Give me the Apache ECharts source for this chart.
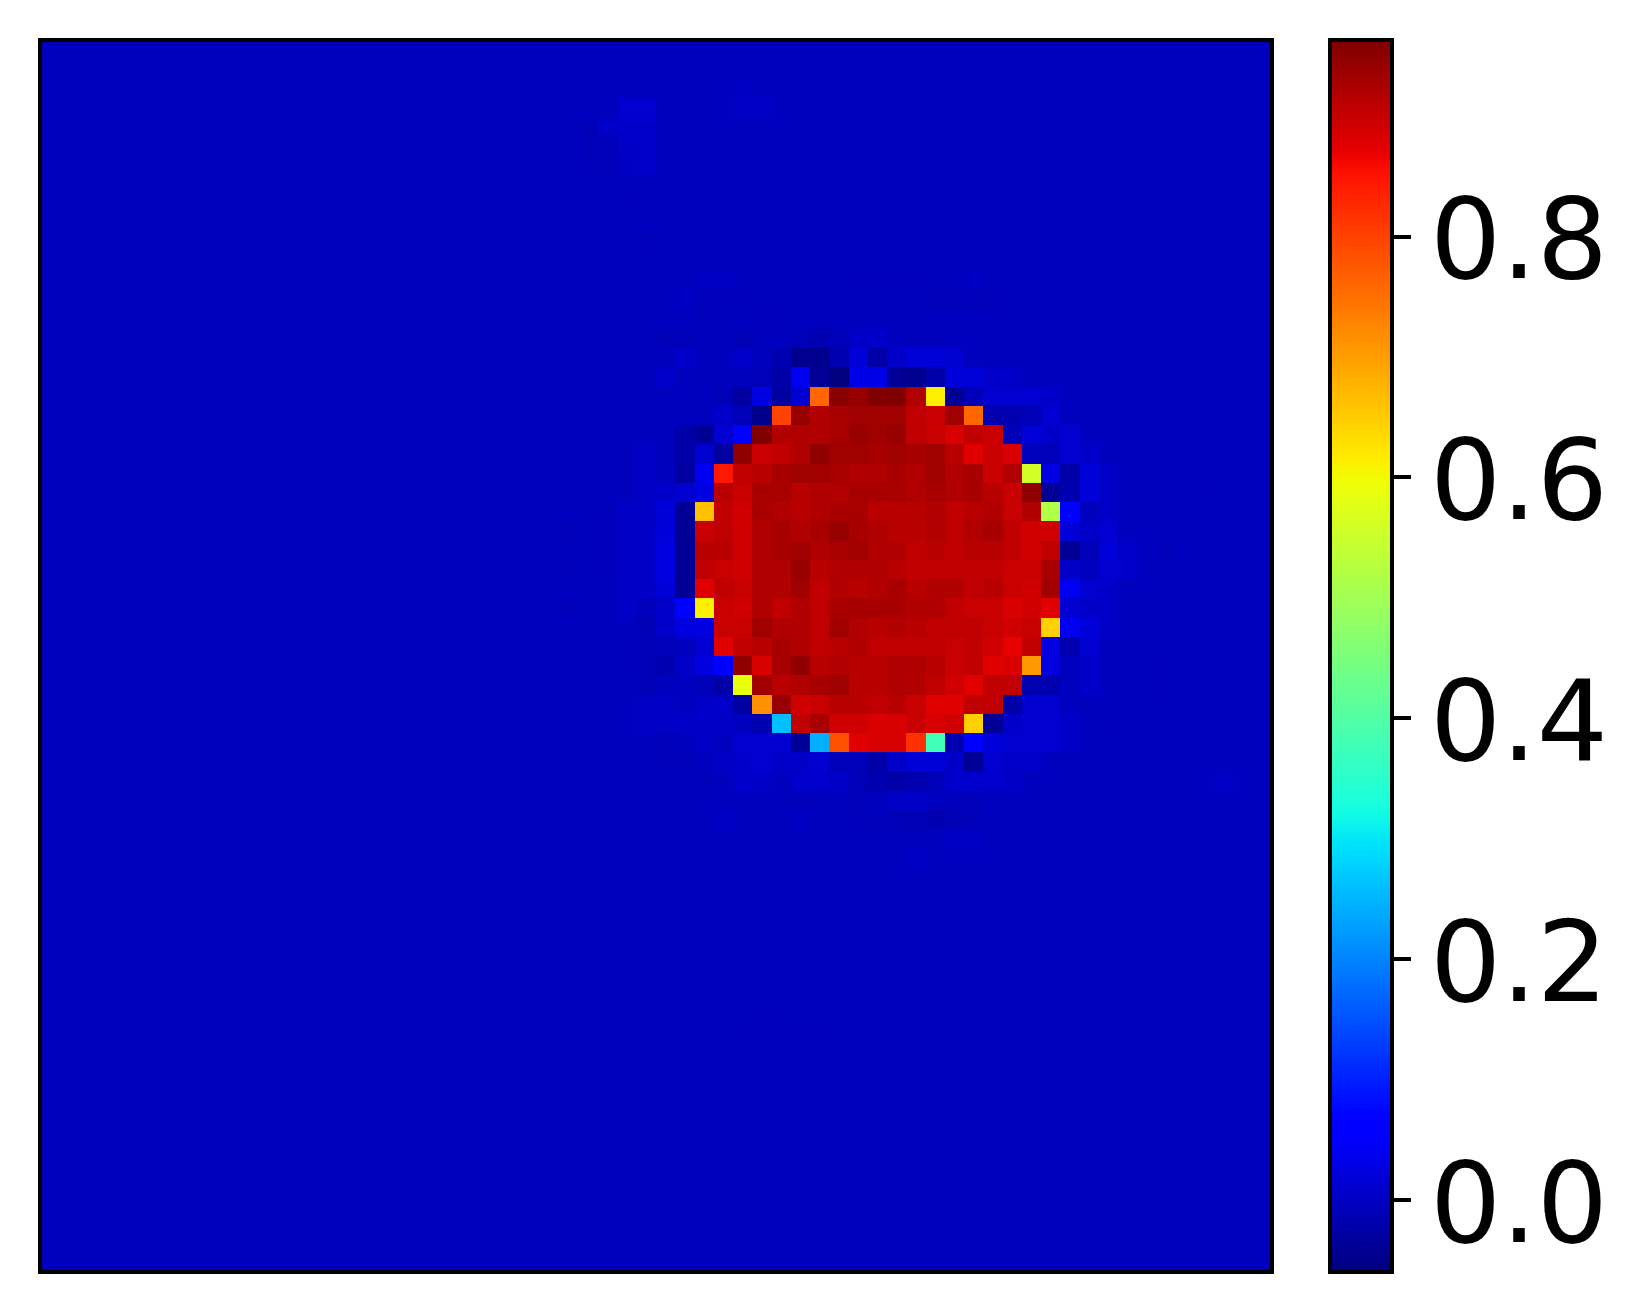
<!DOCTYPE html>
<html>
<head>
<meta charset="utf-8">
<title>heatmap</title>
<script src="https://cdn.jsdelivr.net/npm/echarts@6/dist/echarts.min.js"></script>
<style>
html, body { margin: 0; padding: 0; background: #fff; }
#chart { width: 1647px; height: 1312px; }
</style>
</head>
<body>
<div id="chart"></div>
<script>
const gridSize = 64;
const backgroundValue = -0.004;
const valueMin = -0.06;
const valueMax = 0.963;
const colorbarTicks = [0, 0.2, 0.4, 0.6, 0.8];

// cells around the disc: rows 15..38, columns 31..56
const coreFirstRow = 15;
const coreFirstCol = 31;
const coreRows = [
  [-.004,-.010,-.010,-.004,-.004,-.012,-.004,-.004,-.010,-.016,-.008,.002,.006,-.004,-.006,-.006,-.004,-.004,-.004,-.004,-.004,-.004,-.004,-.004,-.004,-.004],
  [-.004,-.004,.004,-.004,-.004,.004,-.004,-.017,-.046,-.046,-.017,.018,-.024,.004,.018,.018,.011,-.004,-.004,-.004,-.004,-.004,-.004,-.004,-.004,-.004],
  [-.004,.004,-.004,-.004,-.004,-.004,-.010,-.024,.039,-.039,-.060,.032,.032,-.039,-.046,-.024,.018,.018,.004,.004,-.004,-.004,-.004,-.004,-.004,-.004],
  [-.004,-.004,-.004,-.004,-.010,-.031,.025,-.031,.011,.760,.955,.941,.963,.963,.920,.611,-.039,-.010,.011,.011,.011,.004,-.004,-.004,-.004,-.004],
  [-.004,-.004,-.004,-.004,.004,-.010,-.046,.800,.941,.920,.927,.934,.934,.934,.906,.899,.934,.760,-.017,-.017,-.010,.011,-.004,-.004,-.004,-.004],
  [-.004,-.004,-.024,-.039,.011,.065,.963,.920,.920,.920,.927,.941,.934,.941,.906,.899,.885,.906,.899,-.010,.018,.004,.011,-.004,-.004,-.004],
  [.002,-.004,-.024,.011,-.031,.948,.899,.906,.920,.948,.934,.934,.927,.934,.927,.934,.913,.878,.899,.885,-.004,-.010,.011,.004,-.004,-.004],
  [.002,-.004,-.031,.039,.845,.906,.913,.927,.934,.934,.927,.920,.920,.927,.920,.934,.920,.927,.899,.920,.557,.025,-.024,.018,.004,-.004],
  [.002,.004,.011,.025,.913,.899,.927,.927,.913,.920,.920,.927,.927,.927,.920,.927,.920,.927,.913,.899,.948,-.039,-.017,.018,.004,-.004],
  [.002,.018,-.039,.663,.906,.892,.927,.920,.913,.920,.927,.927,.913,.913,.913,.920,.906,.913,.920,.899,.920,.517,.065,-.004,.004,-.004],
  [.002,.018,-.039,.899,.906,.892,.920,.927,.920,.927,.941,.927,.920,.913,.913,.920,.906,.920,.927,.906,.892,.892,.018,.004,.011,-.004],
  [.002,.025,-.039,.913,.913,.892,.920,.927,.934,.920,.927,.934,.920,.920,.906,.913,.906,.913,.913,.906,.892,.906,-.039,-.010,.018,.004],
  [.002,.025,-.039,.906,.899,.892,.920,.920,.941,.913,.920,.920,.920,.913,.906,.906,.906,.906,.906,.899,.899,.927,.004,-.004,.011,.004],
  [.002,.018,-.039,.878,.906,.899,.920,.920,.934,.906,.920,.913,.920,.927,.913,.920,.920,.906,.913,.899,.892,.934,.039,.011,.004,-.004],
  [-.008,.004,.065,.611,.899,.892,.920,.906,.920,.906,.927,.927,.927,.927,.920,.920,.906,.899,.899,.885,.892,.878,.011,.004,.004,-.004],
  [-.012,.004,.025,.025,.899,.899,.934,.920,.920,.906,.934,.920,.913,.920,.913,.906,.906,.906,.899,.892,.899,.646,.039,.018,.004,-.004],
  [-.012,-.010,-.004,.011,.878,.906,.913,.927,.920,.906,.913,.920,.906,.906,.906,.906,.899,.906,.892,.871,.906,.025,-.017,.011,-.004,-.004],
  [-.012,-.017,.004,.025,.065,.948,.885,.927,.948,.913,.920,.913,.913,.920,.920,.913,.899,.906,.878,.885,.706,.025,-.004,.004,-.004,-.004],
  [-.012,-.004,-.004,-.010,-.024,.587,.934,.913,.920,.927,.934,.913,.913,.920,.920,.906,.892,.878,.906,.906,-.017,-.017,-.004,.004,-.004,-.004],
  [.002,.002,-.004,.004,.004,-.031,.714,.941,.892,.899,.913,.913,.906,.913,.899,.878,.878,.906,.906,-.024,.011,.011,-.004,-.004,-.004,-.004],
  [.002,.002,.004,.004,.004,-.004,-.017,.260,.906,.927,.892,.892,.885,.885,.899,.885,.892,.646,-.039,.004,.011,.011,.004,-.004,-.008,-.004],
  [-.004,-.008,-.004,.004,-.004,.011,.011,.011,-.039,.244,.784,.878,.885,.885,.819,.377,-.017,.065,.018,.011,.011,.011,.004,-.004,-.004,-.004],
  [-.004,-.008,-.008,-.004,.002,.004,.011,.004,.004,.011,-.010,-.010,-.024,.004,.018,.018,.004,-.039,.011,.004,.004,-.004,-.004,-.004,-.004,-.004],
  [-.004,-.004,-.004,-.008,-.004,.008,.004,-.004,.008,.008,.002,-.010,-.017,-.024,-.017,-.010,.008,.008,.008,.002,-.004,-.004,-.004,-.004,-.004,-.004]
];

// faint patches elsewhere on the background: [col, row, value]
const backgroundPatches = [
  [36, 2, -.001],
  [30, 3, .011], [31, 3, .011], [36, 3, .002], [37, 3, .002],
  [28, 4, -.010], [29, 4, .004], [30, 4, .006], [31, 4, .006],
  [28, 5, -.010], [29, 5, -.008], [30, 5, .002], [31, 5, .006],
  [28, 6, -.008], [29, 6, -.008], [30, 6, -.001], [31, 6, .004],
  [30, 8, -.008], [31, 10, -.008],
  [34, 12, .001], [35, 12, .001], [42, 12, -.007], [43, 12, -.007], [44, 12, -.007], [45, 12, -.007], [48, 12, .001],
  [33, 13, .001], [34, 13, -.007], [35, 13, -.007], [36, 13, -.007], [46, 13, -.009], [47, 13, -.009], [48, 13, -.009], [49, 13, -.009],
  [34, 14, -.006], [37, 14, -.005], [38, 14, -.005], [49, 14, -.005],
  [30, 21, -.006], [30, 22, -.006], [30, 23, -.006],
  [30, 24, .002], [30, 25, .002], [30, 26, .002], [30, 27, .002], [30, 28, .002], [30, 29, .002],
  [29, 24, -.006], [29, 25, -.006], [29, 26, -.006], [29, 27, -.006],
  [27, 25, -.008], [27, 27, -.008], [27, 29, -.008], [30, 31, -.006], [30, 32, -.006],
  [58, 24, -.008], [58, 26, -.008], [58, 28, -.009], [60, 23, -.008],
  [56, 26, -.006], [56, 27, -.006], [58, 32, -.006], [58, 33, -.006], [58, 34, -.006], [61, 38, .002],
  [39, 39, -.008], [40, 39, -.007], [42, 39, -.008], [44, 39, .002], [45, 39, .002], [47, 39, -.008], [48, 39, -.008],
  [35, 40, .001], [39, 40, .001], [42, 40, -.008], [43, 40, -.008], [44, 40, -.012], [45, 40, -.012], [46, 40, -.016], [47, 40, -.012], [48, 40, -.008],
  [47, 41, .001], [48, 41, .001], [45, 42, .001],
  [37, 50, -.007], [38, 50, -.007], [36, 51, -.007], [37, 51, -.007], [38, 51, -.007], [39, 51, -.007], [40, 51, -.007]
];

// matplotlib jet
function jet(t) {
  const seg = (pts) => {
    for (let i = 1; i < pts.length; i++) {
      if (t <= pts[i][0]) {
        const k = (t - pts[i - 1][0]) / (pts[i][0] - pts[i - 1][0]);
        return pts[i - 1][1] + k * (pts[i][1] - pts[i - 1][1]);
      }
    }
    return pts[pts.length - 1][1];
  };
  const r = seg([[0, 0], [0.35, 0], [0.66, 1], [0.89, 1], [1, 0.5]]);
  const g = seg([[0, 0], [0.125, 0], [0.375, 1], [0.64, 1], [0.91, 0], [1, 0]]);
  const b = seg([[0, 0.5], [0.11, 1], [0.34, 1], [0.65, 0], [1, 0]]);
  return 'rgb(' + Math.round(r * 255) + ',' + Math.round(g * 255) + ',' + Math.round(b * 255) + ')';
}
const jetColors = [];
for (let i = 0; i < 256; i++) jetColors.push(jet(i / 255));

const cells = [];
const categories = [];
for (let i = 0; i < gridSize; i++) categories.push(String(i));
const lookup = {};
backgroundPatches.forEach((p) => { lookup[p[0] + '_' + p[1]] = p[2]; });
coreRows.forEach((row, r) => {
  row.forEach((v, c) => { lookup[(c + coreFirstCol) + '_' + (r + coreFirstRow)] = v; });
});
for (let row = 0; row < gridSize; row++) {
  for (let col = 0; col < gridSize; col++) {
    const v = lookup[col + '_' + row];
    cells.push([col, row, v === undefined ? backgroundValue : v]);
  }
}

// whole-pixel cell edges so neighbouring cells never leave a seam
function renderCell(params, api) {
  const center = api.coord([api.value(0), api.value(1)]);
  const size = api.size([1, 1]);
  const x0 = Math.round(center[0] - size[0] / 2);
  const x1 = Math.round(center[0] + size[0] / 2);
  const y0 = Math.round(center[1] - size[1] / 2);
  const y1 = Math.round(center[1] + size[1] / 2);
  return {
    type: 'rect',
    shape: { x: x0, y: y0, width: x1 - x0, height: y1 - y0 },
    style: { fill: api.visual('color') }
  };
}

const frameLine = { show: true, onZero: false, lineStyle: { color: '#000', width: 4, cap: 'square' } };
const plainAxis = { axisLine: frameLine, axisTick: { show: false }, axisLabel: { show: false }, splitLine: { show: false }, z: 6 };

const chart = echarts.init(document.getElementById('chart'), null, { renderer: 'canvas' });
chart.setOption({
  animation: false,
  backgroundColor: '#fff',
  tooltip: { show: false },
  grid: [
    { left: 40, top: 40, width: 1232, height: 1232 },
    { left: 1330, top: 40, width: 62, height: 1232 }
  ],
  xAxis: [
    { type: 'category', gridIndex: 0, data: categories, position: 'bottom', ...plainAxis },
    { type: 'category', gridIndex: 0, data: categories, position: 'top', ...plainAxis },
    { type: 'value', gridIndex: 1, min: 0, max: 1, position: 'bottom', ...plainAxis },
    { type: 'value', gridIndex: 1, min: 0, max: 1, position: 'top', ...plainAxis }
  ],
  yAxis: [
    { type: 'category', gridIndex: 0, data: categories, inverse: true, position: 'left', ...plainAxis },
    { type: 'category', gridIndex: 0, data: categories, inverse: true, position: 'right', ...plainAxis },
    { type: 'value', gridIndex: 1, min: valueMin, max: valueMax, position: 'left', ...plainAxis },
    {
      type: 'value',
      gridIndex: 1,
      min: valueMin,
      max: valueMax,
      position: 'right',
      axisLine: frameLine,
      axisTick: { show: true, length: 19, customValues: colorbarTicks, lineStyle: { color: '#000', width: 4 } },
      axisLabel: {
        show: true,
        margin: 38,
        customValues: colorbarTicks,
        fontFamily: 'DejaVu Sans',
        fontSize: 112,
        color: '#000',
        verticalAlign: 'top',
        lineHeight: 26,
        formatter: (v) => v.toFixed(1)
      },
      splitLine: { show: false },
      z: 6
    }
  ],
  visualMap: {
    type: 'continuous',
    seriesIndex: 0,
    dimension: 2,
    min: valueMin,
    max: valueMax,
    calculable: false,
    realtime: false,
    hoverLink: false,
    left: 1330,
    top: 40,
    padding: 0,
    itemWidth: 62,
    itemHeight: 1232,
    text: null,
    showLabel: false,
    inRange: { color: jetColors }
  },
  series: [
    {
      type: 'custom',
      xAxisIndex: 0,
      yAxisIndex: 0,
      renderItem: renderCell,
      encode: { x: 0, y: 1 },
      data: cells,
      progressive: 0,
      silent: true,
      clip: true
    }
  ]
});

window.addEventListener('resize', () => chart.resize());
</script>
</body>
</html>
